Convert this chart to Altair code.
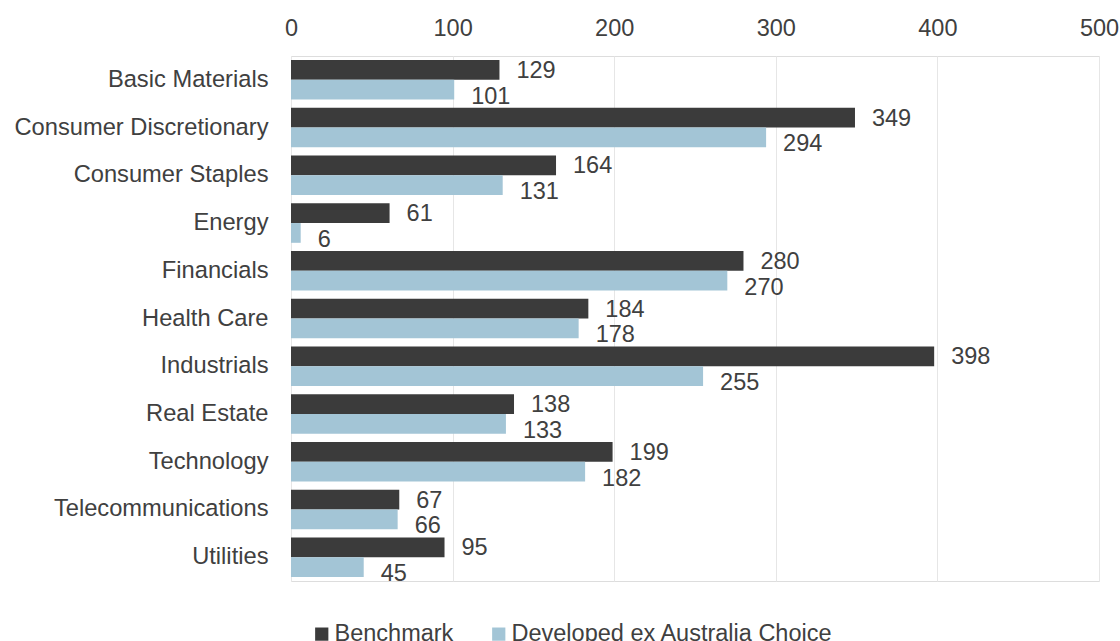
import altair as alt
import pandas as pd

categories = [
    "Basic Materials", "Consumer Discretionary", "Consumer Staples", "Energy",
    "Financials", "Health Care", "Industrials", "Real Estate", "Technology",
    "Telecommunications", "Utilities",
]
benchmark = [129, 349, 164, 61, 280, 184, 398, 138, 199, 67, 95]
developed = [101, 294, 131, 6, 270, 178, 255, 133, 182, 66, 45]
series_names = ["Benchmark", "Developed ex Australia Choice"]
colors = ["#3b3b3b", "#a3c5d6"]
x_ticks = [0, 100, 200, 300, 400, 500]

rows = []
for c, b, d in zip(categories, benchmark, developed):
    rows.append({"category": c, "series": series_names[0], "value": b})
    rows.append({"category": c, "series": series_names[1], "value": d})
df = pd.DataFrame(rows)

FONT = "Liberation Sans"
TXT = "#404040"

y = alt.Y(
    "category:N", sort=categories, title=None,
    scale=alt.Scale(paddingInner=0.172, paddingOuter=0.086),
    axis=alt.Axis(labelFontSize=23.7, labelColor=TXT, labelPadding=23, ticks=False,
                  domain=False, labelFont=FONT, grid=False, labelLimit=500),
)
x = alt.X(
    "value:Q", title=None,
    scale=alt.Scale(domain=[0, 500], nice=False),
    axis=alt.Axis(orient="top", values=x_ticks, grid=True, gridColor="#e6e6e6",
                  ticks=False, domain=False, labelFontSize=23.5, labelColor=TXT,
                  labelFont=FONT, labelPadding=16, labelFlush=False),
)
yoff = alt.YOffset("series:N", sort=series_names,
                   scale=alt.Scale(domain=series_names, paddingInner=0, paddingOuter=0))
color = alt.Color(
    "series:N", sort=series_names,
    scale=alt.Scale(domain=series_names, range=colors),
    legend=alt.Legend(
        title=None, orient="none", legendX=19, legendY=566, direction="horizontal",
        symbolType="square", symbolSize=175, symbolStrokeWidth=0,
        labelFontSize=23.5, labelFont=FONT, labelColor=TXT, labelOffset=1,
        columnPadding=33, labelLimit=600,
    ),
)

base = alt.Chart(df)
bars = base.mark_bar().encode(x=x, y=y, yOffset=yoff, color=color)

lab_b = base.transform_filter(alt.datum.series == series_names[0]).mark_text(
    align="left", baseline="middle", dx=17, dy=1, fontSize=23.5, font=FONT, color=TXT
).encode(x="value:Q", y=alt.Y("category:N", sort=categories), yOffset=yoff, text="value:Q")

lab_d = base.transform_filter(alt.datum.series == series_names[1]).mark_text(
    align="left", baseline="middle", dx=17, dy=7, fontSize=23.5, font=FONT, color=TXT
).encode(x="value:Q", y=alt.Y("category:N", sort=categories), yOffset=yoff, text="value:Q")

chart = alt.layer(bars, lab_b, lab_d).properties(
    width=808, height=525,
    autosize=alt.AutoSizeParams(type="none"),
    padding={"left": 291, "top": 56, "right": 21, "bottom": 60},
).configure_view(stroke=None).configure(background="white")

chart.save("out.html", embed_options={"renderer": "svg", "actions": False})
